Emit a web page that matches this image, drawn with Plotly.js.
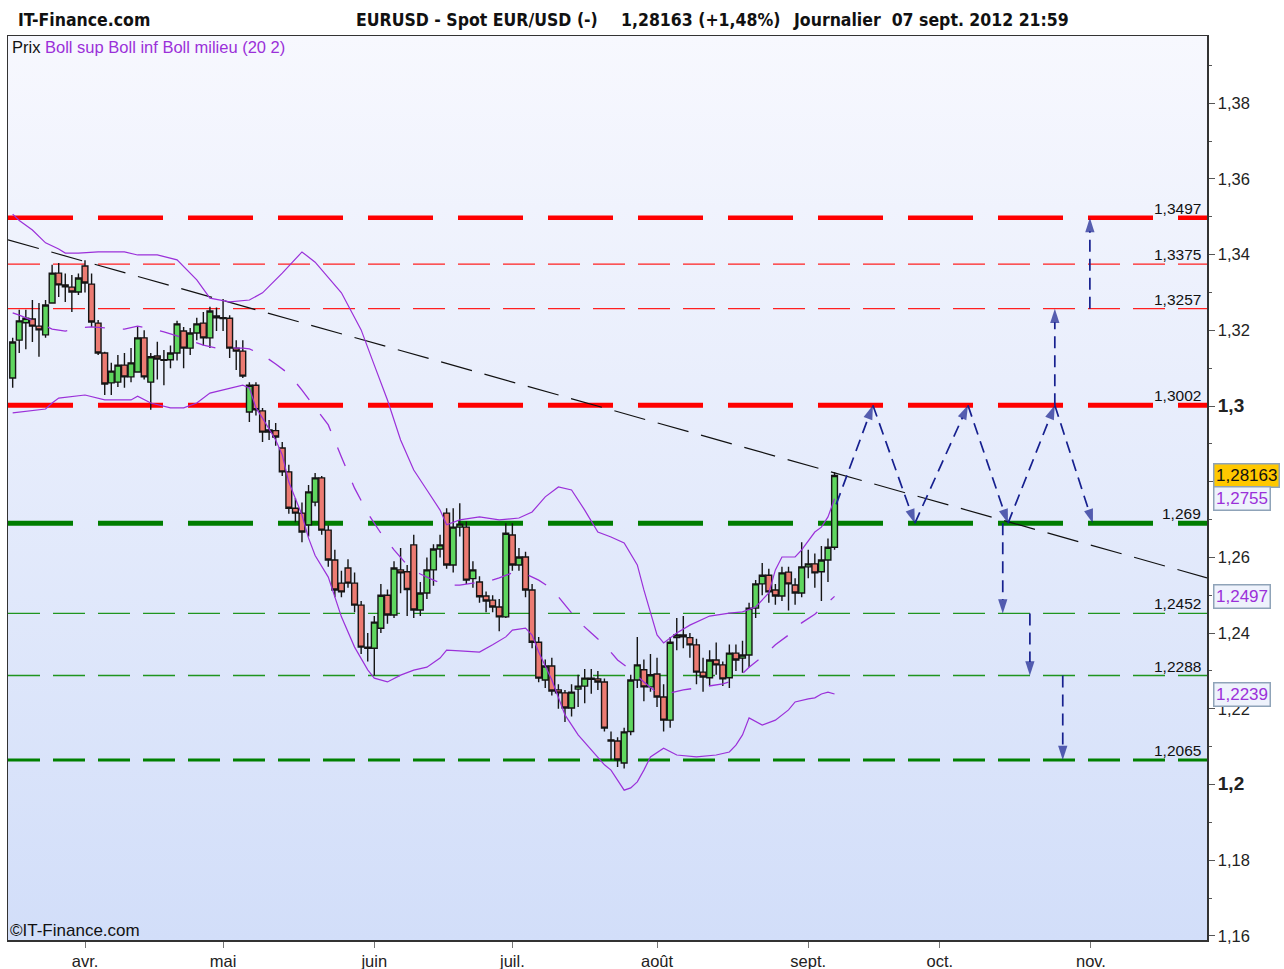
<!DOCTYPE html>
<html><head><meta charset="utf-8">
<script src="https://cdn.plot.ly/plotly-3.0.1.min.js"></script>
<style>html,body{margin:0;padding:0;background:#fff;} #chart{width:1284px;height:969px;}</style>
</head><body><div id="chart"></div>
<script>
// ---------- DATA ----------
const dates = [
'2012-03-16','2012-03-19','2012-03-20','2012-03-21','2012-03-22','2012-03-23','2012-03-26','2012-03-27','2012-03-28','2012-03-29','2012-03-30',
'2012-04-02','2012-04-03','2012-04-04','2012-04-05','2012-04-06','2012-04-09','2012-04-10','2012-04-11','2012-04-12','2012-04-13','2012-04-16','2012-04-17','2012-04-18','2012-04-19','2012-04-20','2012-04-23','2012-04-24','2012-04-25','2012-04-26','2012-04-27','2012-04-30',
'2012-05-01','2012-05-02','2012-05-03','2012-05-04','2012-05-07','2012-05-08','2012-05-09','2012-05-10','2012-05-11','2012-05-14','2012-05-15','2012-05-16','2012-05-17','2012-05-18','2012-05-21','2012-05-22','2012-05-23','2012-05-24','2012-05-25','2012-05-28','2012-05-29','2012-05-30','2012-05-31',
'2012-06-01','2012-06-04','2012-06-05','2012-06-06','2012-06-07','2012-06-08','2012-06-11','2012-06-12','2012-06-13','2012-06-14','2012-06-15','2012-06-18','2012-06-19','2012-06-20','2012-06-21','2012-06-22','2012-06-25','2012-06-26','2012-06-27','2012-06-28','2012-06-29',
'2012-07-02','2012-07-03','2012-07-04','2012-07-05','2012-07-06','2012-07-09','2012-07-10','2012-07-11','2012-07-12','2012-07-13','2012-07-16','2012-07-17','2012-07-18','2012-07-19','2012-07-20','2012-07-23','2012-07-24','2012-07-25','2012-07-26','2012-07-27','2012-07-30','2012-07-31',
'2012-08-01','2012-08-02','2012-08-03','2012-08-06','2012-08-07','2012-08-08','2012-08-09','2012-08-10','2012-08-13','2012-08-14','2012-08-15','2012-08-16','2012-08-17','2012-08-20','2012-08-21','2012-08-22','2012-08-23','2012-08-24','2012-08-27','2012-08-28','2012-08-29','2012-08-30','2012-08-31',
'2012-09-03','2012-09-04','2012-09-05','2012-09-06','2012-09-07'];

const opens = [
1.3074,1.3174,1.3220,1.3230,1.3211,1.3188,1.3272,1.3351,1.3320,1.3314,1.3301,
1.3370,1.3322,1.3219,1.3140,1.3061,1.3063,1.3108,1.3077,1.3090,1.3180,1.3063,1.3132,1.3122,1.3122,1.3140,1.3198,1.3153,1.3193,1.3219,1.3180,1.3238,
1.3233,1.3232,1.3153,1.3145,1.2984,1.3055,1.2987,1.2931,1.2935,1.2889,1.2826,1.2730,1.2717,1.2686,1.2746,1.2810,1.2672,1.2593,1.2532,1.2572,1.2532,1.2474,1.2363,
1.2360,1.2413,1.2500,1.2448,1.2567,1.2562,1.2633,1.2461,1.2506,1.2567,1.2622,1.2717,1.2580,1.2680,1.2680,1.2544,1.2535,1.2498,1.2487,1.2469,1.2443,
1.2659,1.2580,1.2601,1.2514,1.2376,1.2276,1.2313,1.2250,1.2242,1.2202,1.2252,1.2260,1.2281,1.2279,1.2271,1.2118,1.2115,1.2057,1.2140,1.2276,1.2303,1.2258,
1.2292,1.2231,1.2170,1.2388,1.2395,1.2388,1.2369,1.2297,1.2282,1.2329,1.2316,1.2282,1.2347,1.2334,1.2342,1.2466,1.2530,1.2553,1.2514,1.2498,1.2561,1.2527,1.2506,
1.2575,1.2583,1.2562,1.2593,1.2627];

const highs = [
1.3180,1.3254,1.3254,1.3280,1.3272,1.3280,1.3373,1.3378,1.3350,1.3346,1.3350,
1.3385,1.3350,1.3227,1.3143,1.3114,1.3135,1.3140,1.3153,1.3209,1.3200,1.3140,1.3170,1.3148,1.3160,1.3225,1.3209,1.3206,1.3233,1.3248,1.3262,1.3260,
1.3283,1.3240,1.3174,1.3174,1.3063,1.3063,1.2995,1.2963,1.2955,1.2905,1.2845,1.2757,1.2745,1.2791,1.2823,1.2815,1.2685,1.2620,1.2565,1.2595,1.2560,1.2485,1.2400,
1.2445,1.2530,1.2515,1.2590,1.2625,1.2580,1.2660,1.2535,1.2600,1.2635,1.2660,1.2730,1.2730,1.2743,1.2695,1.2590,1.2550,1.2510,1.2500,1.2490,1.2690,
1.2690,1.2625,1.2615,1.2530,1.2390,1.2330,1.2335,1.2265,1.2250,1.2265,1.2290,1.2305,1.2305,1.2300,1.2280,1.2140,1.2125,1.2150,1.2290,1.2390,1.2330,1.2345,
1.2335,1.2265,1.2390,1.2440,1.2445,1.2400,1.2385,1.2335,1.2355,1.2375,1.2325,1.2370,1.2370,1.2380,1.2480,1.2540,1.2585,1.2570,1.2530,1.2575,1.2575,1.2545,1.2640,
1.2620,1.2610,1.2630,1.2650,1.2825];

const lows = [
1.3048,1.3140,1.3150,1.3169,1.3130,1.3180,1.3270,1.3288,1.3275,1.3248,1.3293,
1.3300,1.3209,1.3135,1.3029,1.3029,1.3050,1.3048,1.3063,1.3090,1.3070,1.2990,1.3070,1.3055,1.3100,1.3120,1.3100,1.3135,1.3174,1.3160,1.3153,1.3198,
1.3198,1.3127,1.3095,1.3074,1.2958,1.2975,1.2905,1.2910,1.2895,1.2815,1.2715,1.2693,1.2640,1.2655,1.2735,1.2660,1.2575,1.2495,1.2495,1.2520,1.2455,1.2345,1.2325,
1.2288,1.2400,1.2425,1.2440,1.2505,1.2445,1.2440,1.2445,1.2490,1.2525,1.2600,1.2570,1.2560,1.2655,1.2530,1.2520,1.2480,1.2455,1.2455,1.2405,1.2440,
1.2565,1.2565,1.2495,1.2360,1.2270,1.2255,1.2235,1.2200,1.2165,1.2180,1.2205,1.2215,1.2240,1.2250,1.2140,1.2065,1.2046,1.2042,1.2130,1.2255,1.2220,1.2245,
1.2205,1.2140,1.2150,1.2355,1.2360,1.2335,1.2265,1.2245,1.2260,1.2290,1.2260,1.2255,1.2300,1.2295,1.2310,1.2440,1.2500,1.2480,1.2475,1.2485,1.2460,1.2475,1.2495,
1.2545,1.2520,1.2485,1.2535,1.2620];

const closes = [
1.3169,1.3225,1.3232,1.3211,1.3201,1.3267,1.3351,1.3320,1.3315,1.3301,1.3338,
1.3325,1.3222,1.3140,1.3058,1.3092,1.3108,1.3077,1.3114,1.3180,1.3077,1.3130,1.3124,1.3121,1.3140,1.3217,1.3153,1.3193,1.3217,1.3180,1.3251,1.3233,
1.3231,1.3153,1.3145,1.3079,1.3055,1.2990,1.2931,1.2937,1.2918,1.2826,1.2730,1.2717,1.2667,1.2773,1.2810,1.2672,1.2593,1.2514,1.2509,1.2532,1.2474,1.2363,1.2360,
1.2429,1.2500,1.2448,1.2572,1.2559,1.2515,1.2461,1.2506,1.2567,1.2622,1.2633,1.2580,1.2680,1.2688,1.2540,1.2567,1.2496,1.2485,1.2469,1.2443,1.2664,
1.2580,1.2601,1.2514,1.2376,1.2281,1.2313,1.2247,1.2242,1.2202,1.2244,1.2260,1.2281,1.2278,1.2271,1.2149,1.2115,1.2065,1.2139,1.2276,1.2316,1.2258,1.2290,
1.2231,1.2170,1.2376,1.2395,1.2390,1.2369,1.2297,1.2284,1.2329,1.2316,1.2279,1.2347,1.2329,1.2342,1.2466,1.2530,1.2553,1.2509,1.2498,1.2559,1.2530,1.2506,1.2575,
1.2583,1.2559,1.2593,1.2627,1.28163];

// Bollinger (20,2)
const bbUpDates = ['2012-03-16','2012-03-19','2012-03-21','2012-03-23','2012-03-27','2012-03-28','2012-03-30','2012-04-04','2012-04-10','2012-04-12','2012-04-17','2012-04-20','2012-04-25','2012-04-27','2012-05-02','2012-05-07','2012-05-09','2012-05-14','2012-05-17','2012-05-21','2012-05-25','2012-05-30','2012-06-01','2012-06-05','2012-06-07','2012-06-11','2012-06-13','2012-06-15','2012-06-18','2012-06-20','2012-06-25','2012-06-28','2012-07-03','2012-07-05','2012-07-09','2012-07-11','2012-07-13','2012-07-17','2012-07-19','2012-07-23','2012-07-25','2012-07-27','2012-07-30','2012-08-01','2012-08-02','2012-08-06','2012-08-08','2012-08-13','2012-08-16','2012-08-20','2012-08-22','2012-08-24','2012-08-27','2012-08-28','2012-08-30','2012-08-31','2012-09-04','2012-09-05','2012-09-06','2012-09-07'];
const bbUpVals = [1.3507,1.3490,1.3465,1.3431,1.3415,1.3404,1.3404,1.3407,1.3407,1.3399,1.3399,1.3386,1.3333,1.3285,1.3275,1.3280,1.3299,1.3351,1.3407,1.3380,1.3299,1.3201,1.3108,1.3016,1.2910,1.2831,1.2778,1.2725,1.2686,1.2699,1.2707,1.2699,1.2704,1.2720,1.2760,1.2786,1.2778,1.2725,1.2667,1.2654,1.2638,1.2580,1.2514,1.2395,1.2374,1.2400,1.2421,1.2445,1.2453,1.2456,1.2469,1.2506,1.2567,1.2601,1.2601,1.2620,1.2667,1.2680,1.2707,1.2755];

const bbLowDates = ['2012-03-16','2012-03-21','2012-03-23','2012-03-26','2012-03-27','2012-04-02','2012-04-04','2012-04-05','2012-04-11','2012-04-12','2012-04-16','2012-04-19','2012-04-23','2012-04-25','2012-04-27','2012-05-01','2012-05-03','2012-05-04','2012-05-07','2012-05-08','2012-05-09','2012-05-11','2012-05-14','2012-05-15','2012-05-17','2012-05-18','2012-05-21','2012-05-23','2012-05-25','2012-05-29','2012-05-31','2012-06-01','2012-06-05','2012-06-07','2012-06-11','2012-06-13','2012-06-15','2012-06-18','2012-06-20','2012-06-25','2012-06-27','2012-06-29','2012-07-02','2012-07-04','2012-07-05','2012-07-06','2012-07-10','2012-07-12','2012-07-16','2012-07-18','2012-07-20','2012-07-23','2012-07-24','2012-07-25','2012-07-26','2012-07-27','2012-07-30','2012-07-31','2012-08-02','2012-08-06','2012-08-09','2012-08-14','2012-08-16','2012-08-17','2012-08-20','2012-08-21','2012-08-23','2012-08-27','2012-08-29','2012-08-30','2012-09-03','2012-09-04','2012-09-05','2012-09-06','2012-09-07'];
const bbLowVals = [1.2982,1.2987,1.2992,1.3008,1.3021,1.3029,1.3021,1.3016,1.3016,1.3026,1.3008,1.2995,1.2995,1.3008,1.3034,1.3042,1.3050,1.3055,1.3048,1.2995,1.2968,1.2910,1.2871,1.2799,1.2712,1.2651,1.2605,1.2548,1.2443,1.2363,1.2303,1.2281,1.2271,1.2289,1.2302,1.2310,1.2334,1.2355,1.2353,1.2350,1.2369,1.2390,1.2408,1.2413,1.2395,1.2350,1.2276,1.2184,1.2131,1.2091,1.2052,1.2038,1.2012,1.1985,1.1991,1.2007,1.2038,1.2073,1.2096,1.2078,1.2073,1.2078,1.2086,1.2104,1.2131,1.2176,1.2157,1.2170,1.2197,1.2218,1.2226,1.2229,1.2239,1.2244,1.2239];

const bbMidDates = ['2012-03-16','2012-03-19','2012-03-22','2012-03-26','2012-03-28','2012-03-30','2012-04-03','2012-04-06','2012-04-10','2012-04-12','2012-04-16','2012-04-18','2012-04-20','2012-04-24','2012-04-26','2012-04-30','2012-05-02','2012-05-04','2012-05-07','2012-05-09','2012-05-11','2012-05-15','2012-05-17','2012-05-21','2012-05-23','2012-05-25','2012-05-29','2012-05-31','2012-06-04','2012-06-06','2012-06-08','2012-06-12','2012-06-14','2012-06-18','2012-06-20','2012-06-22','2012-06-26','2012-06-28','2012-07-02','2012-07-04','2012-07-06','2012-07-10','2012-07-12','2012-07-16','2012-07-18','2012-07-20','2012-07-24','2012-07-26','2012-07-30','2012-08-01','2012-08-03','2012-08-07','2012-08-09','2012-08-13','2012-08-15','2012-08-17','2012-08-21','2012-08-23','2012-08-27','2012-08-29','2012-08-31','2012-09-04','2012-09-06','2012-09-07'];
const bbMidVals = [1.3246,1.3240,1.3219,1.3203,1.3198,1.3206,1.3209,1.3206,1.3203,1.3211,1.3203,1.3196,1.3185,1.3172,1.3161,1.3153,1.3153,1.3153,1.3151,1.3135,1.3111,1.3085,1.3042,1.2997,1.2950,1.2865,1.2783,1.2717,1.2664,1.2620,1.2580,1.2556,1.2540,1.2527,1.2527,1.2532,1.2535,1.2546,1.2559,1.2556,1.2540,1.2517,1.2474,1.2432,1.2400,1.2369,1.2329,1.2303,1.2271,1.2242,1.2242,1.2250,1.2255,1.2260,1.2266,1.2276,1.2310,1.2337,1.2369,1.2395,1.2427,1.2450,1.2482,1.2497];

// support / resistance levels
const resistLevels = [1.3497, 1.3375, 1.3257, 1.3002];
const supportLevels = [1.269, 1.2452, 1.2288, 1.2065];

// trend line end points
const trendDates = ['2012-03-15 06:56', '2012-11-26 15:30'];
const trendVals = [1.3439, 1.2546];

// projected scenario arrows
const projFromDates = ['2012-09-07 06:00','2012-09-14 20:00','2012-09-25 05:00','2012-10-05 07:00','2012-10-15 09:00','2012-10-24 12:00','2012-10-12 14:00','2012-10-18 17:00','2012-10-25 17:00','2012-10-24 12:00','2012-10-31 20:00'];
const projFromVals  = [1.2740,1.3002,1.2690,1.3002,1.2690,1.3002,1.2690,1.2452,1.2288,1.3002,1.3257];
const projToDates   = ['2012-09-14 20:00','2012-09-25 05:00','2012-10-05 07:00','2012-10-15 09:00','2012-10-24 12:00','2012-11-01 07:00','2012-10-12 14:00','2012-10-18 17:00','2012-10-25 17:00','2012-10-24 12:00','2012-10-31 20:00'];
const projToVals    = [1.3002,1.2690,1.3002,1.2690,1.3002,1.2690,1.2452,1.2288,1.2065,1.3257,1.3497];

// axes
const monthTickVals = ['2012-04-02','2012-05-01','2012-06-01','2012-07-02','2012-08-01','2012-09-03','2012-10-01','2012-11-01'];
const monthTickText = ['avr.','mai','juin','juil.','août','sept.','oct.','nov.'];
const yTickVals = [1.16,1.18,1.20,1.22,1.24,1.26,1.28,1.30,1.32,1.34,1.36,1.38];
const yTickText = ['1,16','1,18','<b><span style="font-size:19px">1,2</span></b>','1,22','1,24','1,26','','<b><span style="font-size:19px">1,3</span></b>','1,32','1,34','1,36','1,38'];
const xRange = ['2012-03-15 06:56', '2012-11-26 15:30'];
const yRange = [1.15892, 1.39775];

// ---------- CHART ----------
const PURPLE = '#9b30d9';
const fmt = (v, d) => v.toFixed(d).replace('.', ',');
const lvlText = v => String(v).replace('.', ',');

const traces = [];
traces.push({
  type:'candlestick', x:dates, open:opens, high:highs, low:lows, close:closes,
  increasing:{line:{color:'#151515', width:1.4}, fillcolor:'#5fd65f'},
  decreasing:{line:{color:'#151515', width:1.4}, fillcolor:'#ec7b72'},
  whiskerwidth:0, hoverinfo:'skip'
});
traces.push({type:'scatter', mode:'lines', x:bbUpDates, y:bbUpVals, line:{color:PURPLE, width:1.2}, hoverinfo:'skip'});
traces.push({type:'scatter', mode:'lines', x:bbLowDates, y:bbLowVals, line:{color:PURPLE, width:1.2}, hoverinfo:'skip'});
traces.push({type:'scatter', mode:'lines', x:bbMidDates, y:bbMidVals, line:{color:PURPLE, width:1.3, dash:'20px,18px'}, hoverinfo:'skip'});

const BLUE = '#16208f';
for (let i = 0; i < projFromDates.length; i++) {
  traces.push({
    type:'scatter', mode:'lines+markers',
    x:[projFromDates[i], projToDates[i]], y:[projFromVals[i], projToVals[i]],
    line:{color:BLUE, width:1.7, dash:'12px,7px'},
    marker:{symbol:'arrow', size:[0,15], angleref:'previous', color:BLUE, line:{width:0}},
    hoverinfo:'skip'
  });
}

const shapes = [];
const thickDash = '65px,25px', thinDash = '32px,13px';
const resistStyle = [{w:4.5,d:thickDash,c:'#ff0000'},{w:1.3,d:thinDash,c:'#ff2020'},{w:1.3,d:thinDash,c:'#ff2020'},{w:5,d:thickDash,c:'#ff0000'}];
const supportStyle = [{w:5,d:thickDash,c:'#007d00'},{w:1.3,d:thinDash,c:'#1f951f'},{w:1.3,d:thinDash,c:'#1f951f'},{w:3,d:thinDash,c:'#008000'}];
resistLevels.forEach((v,i)=>shapes.push({type:'line', xref:'paper', yref:'y', x0:0, x1:1, y0:v, y1:v, layer:'below', line:{color:resistStyle[i].c, width:resistStyle[i].w, dash:resistStyle[i].d}}));
supportLevels.forEach((v,i)=>shapes.push({type:'line', xref:'paper', yref:'y', x0:0, x1:1, y0:v, y1:v, layer:'below', line:{color:supportStyle[i].c, width:supportStyle[i].w, dash:supportStyle[i].d}}));
shapes.push({type:'line', xref:'x', yref:'y', x0:trendDates[0], y0:trendVals[0], x1:trendDates[1], y1:trendVals[1], layer:'below', line:{color:'#111', width:1.2, dash:'32px,13px'}});

const annotations = [];
const headFont = {family:'Liberation Sans Narrow, DejaVu Sans Condensed, Liberation Sans, Arial', size:17.5, color:'#111'};
const px = x => (x - 8) / 1199;
const py = y => (940 - y) / 904;
annotations.push({xref:'paper', yref:'paper', x:px(16), y:py(20), xanchor:'left', yanchor:'middle', showarrow:false, text:'<b>IT-Finance.com</b>', font:headFont});
annotations.push({xref:'paper', yref:'paper', x:px(354), y:py(20), xanchor:'left', yanchor:'middle', showarrow:false, text:'<b>EURUSD - Spot EUR/USD (-)</b>', font:headFont});
annotations.push({xref:'paper', yref:'paper', x:px(619), y:py(20), xanchor:'left', yanchor:'middle', showarrow:false, text:'<b>' + fmt(closes[closes.length-1],5) + ' (+1,48%)</b>', font:headFont});
annotations.push({xref:'paper', yref:'paper', x:px(791), y:py(20), xanchor:'left', yanchor:'middle', showarrow:false, text:'<b>Journalier\u00a0\u00a007 sept. 2012 21:59</b>', font:headFont});
annotations.push({xref:'paper', yref:'paper', x:px(10), y:py(47), xanchor:'left', yanchor:'middle', showarrow:false,
  text:'Prix <span style="color:' + PURPLE + '">Boll sup Boll inf Boll milieu (20 2)</span>', font:{family:'Liberation Sans, Arial', size:16.5, color:'#111'}});
annotations.push({xref:'paper', yref:'paper', x:px(8), y:py(930), xanchor:'left', yanchor:'middle', showarrow:false,
  text:'©IT-Finance.com', font:{family:'Liberation Sans, Arial', size:17, color:'#111'}});

resistLevels.concat(supportLevels).forEach(v => annotations.push({
  xref:'paper', yref:'y', x:px(1203), y:v, xanchor:'right', yanchor:'bottom', yshift:-1, showarrow:false,
  text:lvlText(v), font:{family:'Liberation Sans, Arial', size:15.5, color:'#111'}
}));

const boxFont = {family:'Liberation Sans, Arial', size:17, color:PURPLE};
annotations.push({xref:'paper', yref:'y', x:px(1213), y:closes[closes.length-1], xanchor:'left', yanchor:'middle', showarrow:false,
  text:fmt(closes[closes.length-1],5), font:{family:'Liberation Sans, Arial', size:17, color:'#111'}, bgcolor:'#ffc800', bordercolor:'#8fa3b8', borderwidth:1.5, borderpad:1.5});
[bbUpVals[bbUpVals.length-1], bbMidVals[bbMidVals.length-1], bbLowVals[bbLowVals.length-1]].forEach(v => annotations.push({
  xref:'paper', yref:'y', x:px(1213), y:v, xanchor:'left', yanchor:'middle', showarrow:false,
  text:fmt(v,4), font:boxFont, bgcolor:'#eef2fc', bordercolor:'#8fa3b8', borderwidth:1.5, borderpad:1.5
}));

const gradSvg = "<svg xmlns='http://www.w3.org/2000/svg' width='10' height='100' preserveAspectRatio='none'><defs><linearGradient id='g' x1='0' y1='0' x2='0' y2='1'><stop offset='0' stop-color='#f7f8fe'/><stop offset='1' stop-color='#d2def9'/></linearGradient></defs><rect width='10' height='100' fill='url(#g)'/></svg>";

const layout = {
  width:1284, height:969,
  margin:{l:8, r:77, t:36, b:29},
  paper_bgcolor:'#ffffff', plot_bgcolor:'rgba(0,0,0,0)',
  showlegend:false, hovermode:false, separators:', ', boxgap:0.12, boxgroupgap:0,
  font:{family:'Liberation Sans, Arial, sans-serif', size:14, color:'#222'},
  xaxis:{type:'date', range:xRange, rangebreaks:[{bounds:['sat','mon']}], rangeslider:{visible:false},
    tickmode:'array', tickvals:monthTickVals, ticktext:monthTickText, ticks:'outside', ticklen:6, tickcolor:'#777',
    tickfont:{size:16.5, color:'#222'}, showgrid:false, zeroline:false, showline:true, linecolor:'#333', linewidth:1.5, mirror:true, fixedrange:true},
  yaxis:{side:'right', range:yRange, tickmode:'array', tickvals:yTickVals, ticktext:yTickText, ticks:'outside', ticklen:6, tickcolor:'#555',
    tickfont:{size:16.5, color:'#222'}, showgrid:false, zeroline:false, showline:true, linecolor:'#333', linewidth:1.5, mirror:true, fixedrange:true,
    minor:{tickmode:'linear', tick0:1.15, dtick:0.01, ticks:'outside', ticklen:3, tickcolor:'#555', showgrid:false}},
  images:[{source:'data:image/svg+xml;charset=utf-8,' + encodeURIComponent(gradSvg), xref:'paper', yref:'paper', x:0, y:1, sizex:1, sizey:1,
    xanchor:'left', yanchor:'top', sizing:'stretch', layer:'below'}],
  shapes:shapes, annotations:annotations
};

Plotly.newPlot('chart', traces, layout, {staticPlot:true, displayModeBar:false});
</script>
</body></html>
